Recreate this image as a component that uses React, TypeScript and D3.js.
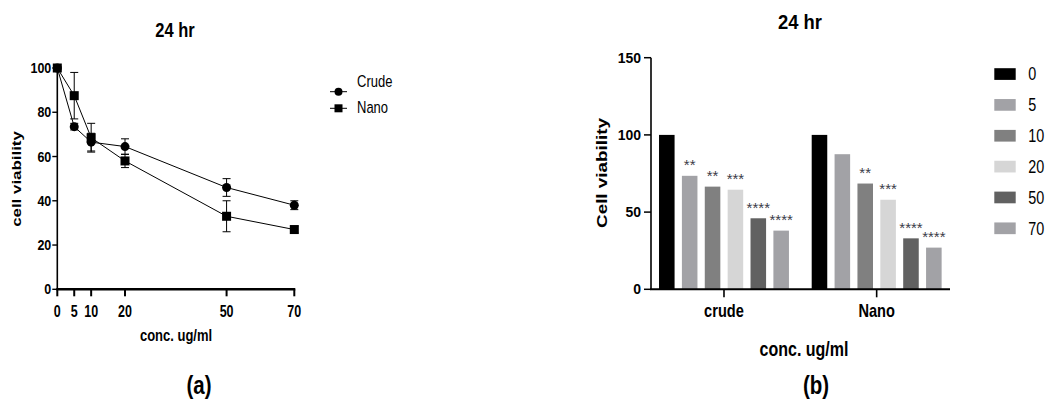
import React from 'react';
import { scaleLinear, scaleBand, line } from 'd3';

// concentrations (ug/ml) and viability readings, 24 hr
const concs = [0, 5, 10, 20, 50, 70];
const crudeMean = [100, 73.5, 66.5, 64.5, 46, 38];
const crudeErr = [0, 1.5, 4, 3.5, 4, 2];
const nanoMean = [100, 87.5, 68.5, 58, 33, 27];
const nanoErr = [0, 10.5, 6.5, 3, 7, 1.5];

const groups = ['crude', 'Nano'];
const barKeys = ['0', '5', '10', '20', '50', '70'];
const barColors = ['#000000', '#a2a2a6', '#808080', '#d6d6d6', '#616161', '#a2a2a6'];
const crudeStars = ['', '**', '**', '***', '****', '****'];
const nanoStars = ['', '', '**', '***', '****', '****'];

const yTicksA = [0, 20, 40, 60, 80, 100];
const yTicksB = [0, 50, 100, 150];

const FONT = "'Liberation Sans', Arial, sans-serif";

// text that is stretched a bit vertically, like the source image
function T({ x, y, k = 1, rot = false, children, ...rest }: any) {
  const tf = rot
    ? `translate(${x},${y}) rotate(-90) scale(${k},1)`
    : `translate(${x},${y}) scale(1,${k})`;
  return (
    <text transform={tf} fontFamily={FONT} {...rest}>
      {children}
    </text>
  );
}

function LinePanel() {
  const x = scaleLinear().domain([0, 70]).range([57.3, 294.3]);
  const y = scaleLinear().domain([0, 100]).range([289.3, 68]);
  const path = line<number>()
    .x((_, i) => x(concs[i]))
    .y((d) => y(d));

  const errBars = (means: number[], errs: number[], key: string) =>
    means.map((m, i) =>
      errs[i] > 0 ? (
        <g key={key + i} stroke="#000" strokeWidth={1}>
          <line x1={x(concs[i])} x2={x(concs[i])} y1={y(m - errs[i])} y2={y(m + errs[i])} />
          <line x1={x(concs[i]) - 4} x2={x(concs[i]) + 4} y1={y(m + errs[i])} y2={y(m + errs[i])} />
          <line x1={x(concs[i]) - 4} x2={x(concs[i]) + 4} y1={y(m - errs[i])} y2={y(m - errs[i])} />
        </g>
      ) : null
    );

  return (
    <g>
      <T x={175} y={37.3} k={1.25} textAnchor="middle" fontWeight="bold" fontSize={16.5}>24 hr</T>

      {/* y axis */}
      <line x1={x(0)} x2={x(0)} y1={y(0)} y2={y(100)} stroke="#000" strokeWidth={1.6} />
      {yTicksA.map((t) => (
        <g key={t}>
          <line x1={x(0) - 5} x2={x(0)} y1={y(t)} y2={y(t)} stroke="#000" strokeWidth={1.4} />
          <T x={x(0) - 6} y={y(t) + 5} k={1.2} textAnchor="end" fontWeight="bold" fontSize={12.5}>{t}</T>
        </g>
      ))}
      {/* x axis */}
      <line x1={x(0) - 1} x2={x(70) + 1} y1={y(0)} y2={y(0)} stroke="#000" strokeWidth={2.6} />
      {concs.map((c) => (
        <g key={c}>
          <line x1={x(c)} x2={x(c)} y1={y(0)} y2={y(0) + 7} stroke="#000" strokeWidth={2} />
          <T x={x(c)} y={317} k={1.3} textAnchor="middle" fontWeight="bold" fontSize={12.5}>{c}</T>
        </g>
      ))}
      <T x={176} y={341} k={1.25} textAnchor="middle" fontWeight="bold" fontSize={13}>conc. ug/ml</T>
      <T x={21} y={179} k={1.3} rot textAnchor="middle" fontWeight="bold" fontSize={13}>cell viability</T>

      {/* series */}
      <path d={path(crudeMean) || ''} fill="none" stroke="#000" strokeWidth={1} />
      <path d={path(nanoMean) || ''} fill="none" stroke="#000" strokeWidth={1} />
      {errBars(crudeMean, crudeErr, 'c')}
      {errBars(nanoMean, nanoErr, 'n')}
      {crudeMean.map((m, i) => (
        <circle key={'cp' + i} cx={x(concs[i])} cy={y(m)} r={4.5} fill="#000" />
      ))}
      {nanoMean.map((m, i) => (
        <rect key={'np' + i} x={x(concs[i]) - 4.5} y={y(m) - 4.5} width={9} height={9} fill="#000" />
      ))}

      {/* legend */}
      <line x1={330} x2={347} y1={91.7} y2={91.7} stroke="#000" />
      <circle cx={338.5} cy={91.7} r={4} fill="#000" />
      <T x={357} y={86.5} k={1.3} fontSize={13}>Crude</T>
      <line x1={330} x2={347} y1={108.3} y2={108.3} stroke="#000" />
      <rect x={334.5} y={104.3} width={8} height={8} fill="#000" />
      <T x={357} y={112.5} k={1.3} fontSize={13}>Nano</T>

      <T x={199} y={394} k={1.25} textAnchor="middle" fontWeight="bold" fontSize={20.5}>(a)</T>
    </g>
  );
}

function BarPanel() {
  const y = scaleLinear().domain([0, 150]).range([289.3, 57.7]);
  const x0 = scaleBand().domain(groups).range([647.65, 953]).paddingInner(0.149).paddingOuter(0.0745);
  const x1 = scaleBand().domain(barKeys).range([0, x0.bandwidth()]).paddingInner(0.32);
  const series = [crudeMean, nanoMean];
  const stars = [crudeStars, nanoStars];

  return (
    <g>
      <T x={800} y={29} k={1.06} textAnchor="middle" fontWeight="bold" fontSize={18.4}>24 hr</T>

      {groups.map((g, gi) => (
        <g key={g} transform={`translate(${x0(g)},0)`}>
          {barKeys.map((k, i) => {
            const v = series[gi][i];
            const bx = x1(k) as number;
            return (
              <g key={k}>
                <rect x={bx} y={y(v)} width={x1.bandwidth()} height={y(0) - y(v)} fill={barColors[i]} />
                {stars[gi][i] && (
                  <text x={bx + x1.bandwidth() / 2} y={y(v) - 5.5} textAnchor="middle" fontFamily={FONT}
                    fontSize={15} fill="#3b3b48">{stars[gi][i]}</text>
                )}
              </g>
            );
          })}
        </g>
      ))}

      {/* y axis */}
      <line x1={651} x2={651} y1={y(0)} y2={y(150)} stroke="#000" strokeWidth={1.6} />
      {yTicksB.map((t) => (
        <g key={t}>
          <line x1={644} x2={651} y1={y(t)} y2={y(t)} stroke="#000" strokeWidth={1.5} />
          <T x={641} y={y(t) + 5} k={1.1} textAnchor="end" fontWeight="bold" fontSize={14}>{t}</T>
        </g>
      ))}
      {/* x axis */}
      <line x1={650} x2={950} y1={y(0)} y2={y(0)} stroke="#000" strokeWidth={2} />
      {groups.map((g) => {
        const cx = (x0(g) as number) + x0.bandwidth() / 2;
        return (
          <g key={g}>
            <line x1={cx} x2={cx} y1={y(0)} y2={y(0) + 8} stroke="#000" strokeWidth={1.6} />
            <T x={cx} y={316.7} k={1.3} textAnchor="middle" fontWeight="bold" fontSize={14.6}>{g}</T>
          </g>
        );
      })}
      <T x={804} y={356} k={1.25} textAnchor="middle" fontWeight="bold" fontSize={16}>conc. ug/ml</T>
      <T x={607} y={173} k={1.3} rot textAnchor="middle" fontWeight="bold" fontSize={14.5}>Cell viability</T>

      {/* legend */}
      {barKeys.map((k, i) => {
        const cy = 74 + i * 30.85;
        return (
          <g key={k}>
            <rect x={994.3} y={cy - 5.8} width={21.4} height={11.7} fill={barColors[i]} />
            <T x={1028.3} y={cy + 6.3} k={1.26} fontSize={14.4}>{k}</T>
          </g>
        );
      })}

      <T x={816} y={394} k={1.25} textAnchor="middle" fontWeight="bold" fontSize={20.5}>(b)</T>
    </g>
  );
}

export default function App() {
  return (
    <svg width={1046} height={405} style={{ position: 'absolute', left: 0, top: 0, background: '#fff' }}>
      <rect width={1046} height={405} fill="#fff" />
      <LinePanel />
      <BarPanel />
    </svg>
  );
}
